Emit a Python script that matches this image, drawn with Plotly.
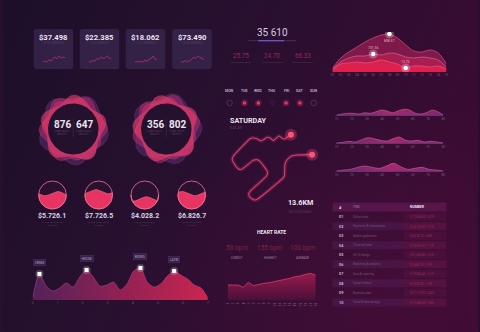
import base64
import numpy as np
import plotly.graph_objects as go

W, H = 480, 332
FONT = "Roboto, Arial, sans-serif"
WHITE = "#ece4f0"
GREY = "#7d6888"
DIM = "#54405e"
PINK = "#e8356a"
DIMPINK = "#8e2b58"

# ---------------- data ----------------
card_values = ["$37.498", "$22.385", "$18.062", "$73.490"]
card_spark = [
    [2, 3, 2, 4, 3, 5, 7, 5, 8, 6, 7, 6],
    [3, 2, 4, 3, 6, 5, 8, 6, 7, 9, 6, 7],
    [2, 3, 2, 3, 2, 4, 3, 5, 6, 9, 5, 6],
    [2, 2, 3, 2, 3, 4, 6, 5, 7, 6, 5, 4],
]
total_value = "35 610"
sub_values = ["25.75", "24.70", "66.33"]

mount_ticks = ["%02d" % i for i in range(1, 16)]
mount_l1 = [4, 14, 20, 25, 30, 34, 37, 38, 34, 27, 21, 20, 22, 19, 8]
mount_l2 = [3, 10, 14, 16, 16, 18, 17, 19, 18, 15, 14, 15, 14, 12, 5]
mount_l3 = [2, 8, 9, 10, 9, 10, 12, 10, 8, 4, 6, 6, 5, 6, 3]
mount_marks = [(0, 7, "808.57", -7), (1, 5, "731.56", 6), (2, 9, "13.75", 6)]

blob_numbers = [("876", "647"), ("356", "802")]

gauge_levels = [0.55, 0.62, 0.36, 0.55]
gauge_phase = [0.3, 2.4, 1.2, 4.0]
gauge_labels = ["$5.726.1", "$7.726.5", "$4.028.2", "$6.826.7"]

peak_vals = [2, 26, 14, 9, 12, 17, 13, 23, 30, 23, 14, 15, 18, 10, 16, 29, 32, 18, 13, 16, 24, 29, 25, 21, 15, 12, 2]
peak_marks = [1, 8, 16, 21]
peak_names = ["CRIME", "HOUSE", "BOOKS", "LATIN"]
peak_ticks = ["0", "1", "2", "3", "4", "5", "6", "7"]

days = ["MON", "TUE", "WED", "THU", "FRI", "SAT", "SUN"]
day_state = ["empty", "fill", "fill", "heart", "fill", "fill", "empty"]

route_x = [198, 188, 180, 170, 162, 152, 145, 135, 125, 115, 105, 95, 82, 74, 22, 20, 24, 38, 48, 84, 96,
           104, 124, 127, 124, 72, 70, 74, 86, 96, 172, 178, 180, 186, 200, 215, 262]
route_y = [20, 26, 33, 30, 24, 32, 38, 30, 28, 35, 38, 32, 30, 32, 86, 96, 104, 122, 124, 97, 95,
           100, 126, 134, 144, 192, 200, 208, 216, 214, 152, 144, 108, 96, 84, 81, 80]

heart_vals = [15, 15, 15, 12.7, 17.7, 14.3, 15.7, 16.7, 17.3, 18.3, 20, 21, 21.7, 23.3, 24, 25.7, 26.7, 25]
heart_stats = ["58 bpm", "155 bpm", "103 bpm"]
heart_labels = ["LOWEST", "HIGHEST", "AVERAGE"]

spark1 = [0, 1, 1.7, 1.7, 1, 2.3, 1.7, 3.3, 5, 4, 2.3, 4.3, 5.7, 5, 1.7, 1, 2.3, 5, 3.3, 0]
spark2 = [0, 0.7, 1.7, 1, 3.3, 5.3, 4.3, 2.7, 2, 4.3, 6, 2.7, 2, 2.7, 1, 1.7, 1, 0]
spark3 = [0, 1, 1.7, 3.7, 5, 3.7, 2.7, 5, 7.7, 4.3, 1.7, 2.7, 3.7, 1.7, 1, 0]
spark_ticks = ["10", "20", "30", "40", "50", "60", "70", "80"]

table_ids = ["%02d" % i for i in range(1, 11)]
table_items = ["Online store", "Payments & transactions", "Mobile application", "Cloud services",
               "UX/UI design", "Marketing & analytics", "Data & reporting", "Social media 2",
               "Business plan", "Cloud & data storage"]
table_numbers = ["$ 12,458.00 / 5.2%", "$ 24,120.50 / 2.1%", "$ 8,374.10 / 4.8%", "$ 15,902.00 / 1.7%",
                 "$ 31,245.80 / 3.3%", "$ 6,481.20 / 2.9%", "$ 19,036.40 / 6.1%", "$ 9,527.00 / 1.2%",
                 "$ 27,113.90 / 4.4%", "$ 11,648.30 / 3.8%"]

# ---------------- figure ----------------
fig = go.Figure()
axes = {}
shapes = []
ann = []
counter = [1]


def new_axes(px0, px1, py0, py1, xr, yr, yrev=False, ticks=None, line=None):
    counter[0] += 1
    n = counter[0]
    xa = dict(domain=[px0 / W, px1 / W], anchor="y%d" % n, range=xr, showgrid=False, zeroline=False,
              showline=False, showticklabels=False, ticks="", fixedrange=True)
    if ticks is not None:
        tv, tt = ticks
        xa.update(showticklabels=True, tickvals=tv, ticktext=tt,
                  tickfont=dict(size=3.2, color="#6f5a7a", family=FONT))
    if line:
        xa.update(showline=True, linecolor=line, linewidth=0.7)
    ya = dict(domain=[1 - py1 / H, 1 - py0 / H], anchor="x%d" % n, showgrid=False, zeroline=False,
              showline=False, showticklabels=False, ticks="", fixedrange=True,
              range=(yr[::-1] if yrev else yr))
    axes["xaxis%d" % n] = xa
    axes["yaxis%d" % n] = ya
    return "x%d" % n, "y%d" % n


def txt(x, y, s, size, color, bold=False, xanchor="center", xref="x", yref="y", **kw):
    ann.append(dict(x=x, y=y, xref=xref, yref=yref, text=("<b>%s</b>" % s if bold else s), showarrow=False,
                    xanchor=xanchor, yanchor="middle", font=dict(size=size, color=color, family=FONT), **kw))


def rrect(x0, y0, x1, y1, r, fill, layer="below", line=None):
    p = (f"M {x0+r},{y0} L {x1-r},{y0} Q {x1},{y0} {x1},{y0+r} L {x1},{y1-r} Q {x1},{y1} {x1-r},{y1} "
         f"L {x0+r},{y1} Q {x0},{y1} {x0},{y1-r} L {x0},{y0+r} Q {x0},{y0} {x0+r},{y0} Z")
    shapes.append(dict(type="path", path=p, xref="x", yref="y", fillcolor=fill, layer=layer,
                       line=dict(width=0.6 if line else 0, color=line or "rgba(0,0,0,0)")))


# canvas trace (keeps canvas axes alive)
fig.add_trace(go.Scatter(x=[0, W], y=[0, H], mode="markers", marker=dict(opacity=0), hoverinfo="skip",
                         showlegend=False, xaxis="x", yaxis="y"))

# ---- cards ----
card_left = [31, 77.5, 124, 171]
for i, l in enumerate(card_left):
    rrect(l, 29, l + 40, 69, 2.5, "rgba(58,40,80,0.72)")
    txt(l + 20, 37, card_values[i], 7.6, WHITE, bold=True)
    txt(l + 20, 43, "TOTAL EARNINGS", 2.6, DIM)
    xa, ya = new_axes(l + 9, l + 32, 55, 63, [0, len(card_spark[i]) - 1],
                      [min(card_spark[i]) - 1, max(card_spark[i]) + 1])
    fig.add_trace(go.Scatter(x=list(range(len(card_spark[i]))), y=card_spark[i], mode="lines",
                             line=dict(color="#c8307a", width=0.8, shape="spline"), xaxis=xa, yaxis=ya,
                             hoverinfo="skip", showlegend=False))

# ---- top middle ----
txt(272, 32.5, total_value, 10, "#d6cce0")
shapes.append(dict(type="line", x0=248, x1=296, y0=40.7, y1=40.7, xref="x", yref="y",
                   line=dict(color="rgba(110,80,150,0.55)", width=0.8), layer="below"))
shapes.append(dict(type="line", x0=258, x1=284, y0=40.7, y1=40.7, xref="x", yref="y",
                   line=dict(color="#6b5bd6", width=1.2), layer="below"))
for xv, s in zip([240, 272, 303], sub_values):
    txt(xv, 56, s, 6.3, DIMPINK)
    txt(xv, 62.5, "Lorem ipsum dolor", 2.5, DIM)

# ---- mountain chart ----
xa, ya = new_axes(333, 448, 32, 72, [0, 14], [0, 40], ticks=(list(range(15)), mount_ticks))
mx = list(range(15))
layers = [(mount_l1, "rgba(140,28,78,0.85)", "rgba(225,90,140,0.9)"),
          (mount_l2, "rgba(180,32,86,0.75)", "rgba(240,120,160,0.8)"),
          (mount_l3, "rgba(222,34,78,0.95)", "rgba(255,100,130,0.8)")]
for vals, fc, lc in layers:
    fig.add_trace(go.Scatter(x=mx, y=vals, mode="lines", fill="tozeroy", fillcolor=fc,
                             line=dict(color=lc, width=0.7, shape="spline", smoothing=1.0),
                             xaxis=xa, yaxis=ya, hoverinfo="skip", showlegend=False))
for li, idx, lab, sh in mount_marks:
    vals = layers[li][0]
    fig.add_trace(go.Scatter(x=[idx], y=[vals[idx]], mode="markers",
                             marker=dict(size=9, color="rgba(255,255,255,0.25)"), xaxis=xa, yaxis=ya,
                             hoverinfo="skip", showlegend=False))
    fig.add_trace(go.Scatter(x=[idx], y=[vals[idx]], mode="markers",
                             marker=dict(size=4.5, color="white"), xaxis=xa, yaxis=ya,
                             hoverinfo="skip", showlegend=False))
    ann.append(dict(x=idx, y=vals[idx], xref=xa, yref=ya, text=lab, showarrow=False, yshift=sh,
                    font=dict(size=3.4, color="rgba(255,210,225,0.85)", family=FONT)))

# ---- blobs ----
th = np.linspace(0, 2 * np.pi, 240)
blob_centers = [(71, 129), (165, 129)]
blob_layers = [
    (33, 3.0, 5, 0.5, "rgba(95,48,120,0.5)"),
    (31.5, 3.2, 6, 1.8, "rgba(175,40,105,0.6)"),
    (30.5, 3.6, 5, 2.9, "rgba(228,62,108,0.62)"),
    (29, 2.5, 7, 4.1, "rgba(210,50,100,0.45)"),
]
for bi, (cx, cy) in enumerate(blob_centers):
    for R, a, k, ph, col in blob_layers:
        r = R + a * np.sin(k * th + ph + bi * 1.3)
        fig.add_trace(go.Scatter(x=cx + r * np.cos(th), y=cy + r * np.sin(th), mode="lines", fill="toself",
                                 fillcolor=col, line=dict(width=0.5, color="rgba(240,110,160,0.3)"),
                                 xaxis="x", yaxis="y", hoverinfo="skip", showlegend=False))
    fig.add_trace(go.Scatter(x=cx + 25.5 * np.cos(th), y=cy + 25.5 * np.sin(th), mode="lines", fill="toself",
                             fillcolor="#24112e", line=dict(width=0), xaxis="x", yaxis="y",
                             hoverinfo="skip", showlegend=False))
    n1, n2 = blob_numbers[bi]
    txt(cx - 11, 124, n1, 10, WHITE, bold=True)
    txt(cx + 11, 124, n2, 10, WHITE, bold=True)
    txt(cx - 11, 132.5, "Lorem ipsum<br>dolor sit", 2.6, DIM)
    txt(cx + 11, 132.5, "Lorem ipsum<br>dolor sit", 2.6, DIM)
    shapes.append(dict(type="line", x0=cx, x1=cx, y0=119, y1=137, xref="x", yref="y",
                       line=dict(color="rgba(120,90,140,0.5)", width=0.5), layer="above"))

# ---- gauges ----
gx = [50, 96.7, 143.3, 190.7]
gy, gr = 195, 14
for i, cx in enumerate(gx):
    shapes.append(dict(type="circle", x0=cx - gr, x1=cx + gr, y0=gy - gr, y1=gy + gr, xref="x", yref="y",
                       fillcolor="#2a1130", line=dict(width=0), layer="below"))
    xs = np.linspace(-gr, gr, 90)
    circ = np.sqrt(np.maximum(gr ** 2 - xs ** 2, 0))
    h = -gr + 2 * gr * gauge_levels[i]
    wave = h + 2.2 * np.sin(xs / gr * np.pi * 1.1 + gauge_phase[i])
    top = np.maximum(np.minimum(wave, circ), -circ)
    px = np.concatenate([xs, xs[::-1]]) + cx
    py = gy - np.concatenate([top, -circ[::-1]])
    fig.add_trace(go.Scatter(x=px, y=py, mode="lines", fill="toself", fillcolor="#e83462",
                             line=dict(width=0.6, color="#ff6d8f"), xaxis="x", yaxis="y",
                             hoverinfo="skip", showlegend=False))
    shapes.append(dict(type="circle", x0=cx - gr, x1=cx + gr, y0=gy - gr, y1=gy + gr, xref="x", yref="y",
                       line=dict(width=0.9, color="rgba(240,110,150,0.9)"), layer="above"))
    txt(cx, 216, gauge_labels[i], 7, "#ddd3e6", bold=True)
    txt(cx, 223.5, "Lorem ipsum dolor<br>sit amet", 2.5, DIM)

# ---- peaks area chart ----
n = len(peak_vals)
tv = list(np.linspace(0, n - 1, len(peak_ticks)))
xa, ya = new_axes(30, 207, 262, 300, [0, n - 1], [0, 38], ticks=(tv, peak_ticks))
fig.add_trace(go.Scatter(x=list(range(n)), y=peak_vals, mode="lines", fill="tozeroy",
                         fillgradient=dict(type="horizontal",
                                           colorscale=[[0, "rgba(85,35,92,0.95)"], [0.5, "rgba(150,34,86,0.95)"],
                                                       [1, "rgba(205,38,80,0.98)"]]),
                         line=dict(color="rgba(210,90,140,0.6)", width=0.7, shape="spline", smoothing=0.8),
                         xaxis=xa, yaxis=ya, hoverinfo="skip", showlegend=False))
mxs = peak_marks
mys = [peak_vals[k] for k in peak_marks]
fig.add_trace(go.Scatter(x=mxs, y=mys, mode="markers", marker=dict(size=8, color="rgba(255,255,255,0.22)"),
                         xaxis=xa, yaxis=ya, hoverinfo="skip", showlegend=False))
fig.add_trace(go.Scatter(x=mxs, y=mys, mode="markers", marker=dict(size=4, color="white", symbol="square"),
                         xaxis=xa, yaxis=ya, hoverinfo="skip", showlegend=False))
for k, name in zip(peak_marks, peak_names):
    ann.append(dict(x=k, y=peak_vals[k], xref=xa, yref=ya, text=name, showarrow=False, yshift=12,
                    bgcolor="#352049", bordercolor="#4a3262", borderwidth=0.5, borderpad=1.2,
                    font=dict(size=3.2, color="#b8a8c6", family=FONT)))

# ---- days ----
day_x = [229, 244, 258, 272, 286, 300, 314]
for dx, d, st in zip(day_x, days, day_state):
    txt(dx, 91, d, 3.6, "#b9a9c4", bold=True)
    if st == "fill":
        fig.add_trace(go.Scatter(x=[dx], y=[103], mode="markers",
                                 marker=dict(size=7, color="rgba(232,53,106,0.25)"), xaxis="x", yaxis="y",
                                 hoverinfo="skip", showlegend=False))
        fig.add_trace(go.Scatter(x=[dx], y=[103], mode="markers", marker=dict(size=3.5, color=PINK),
                                 xaxis="x", yaxis="y", hoverinfo="skip", showlegend=False))
    elif st == "empty":
        fig.add_trace(go.Scatter(x=[dx], y=[103], mode="markers",
                                 marker=dict(size=5.5, color="rgba(0,0,0,0)", line=dict(width=0.6, color="#5d4568")),
                                 xaxis="x", yaxis="y", hoverinfo="skip", showlegend=False))
    else:
        txt(dx, 103, "♡", 7, "#6a5075")

txt(227, 120, "SATURDAY", 7.2, WHITE, bold=True, xanchor="left")
txt(227, 127.5, "8:45 AM", 3.2, DIM, xanchor="left")

# ---- route ----
xa, ya = new_axes(225, 320, 128, 203, [0, 285], [0, 225], yrev=True)
fig.add_trace(go.Scatter(x=route_x, y=route_y, mode="lines",
                         line=dict(color="rgba(230,60,110,0.2)", width=4, shape="spline", smoothing=0.45),
                         xaxis=xa, yaxis=ya, hoverinfo="skip", showlegend=False))
fig.add_trace(go.Scatter(x=route_x, y=route_y, mode="lines",
                         line=dict(color="#d93a6e", width=1.1, shape="spline", smoothing=0.45),
                         xaxis=xa, yaxis=ya, hoverinfo="skip", showlegend=False))
ends_x = [route_x[0], route_x[-1]]
ends_y = [route_y[0], route_y[-1]]
fig.add_trace(go.Scatter(x=ends_x, y=ends_y, mode="markers", marker=dict(size=12, color="rgba(255,80,120,0.3)"),
                         xaxis=xa, yaxis=ya, hoverinfo="skip", showlegend=False))
fig.add_trace(go.Scatter(x=ends_x, y=ends_y, mode="markers", marker=dict(size=6, color="#ff4f7c"),
                         xaxis=xa, yaxis=ya, hoverinfo="skip", showlegend=False))

txt(301, 202.5, "13.6KM", 7.2, WHITE, bold=True)
txt(301, 211.5, "ROUTE DISTANCE", 2.8, DIM)

# ---- heart rate ----
txt(271.5, 231.5, "HEART RATE", 5, WHITE, bold=True)
for xv, s, lab in zip([236.7, 270, 303], heart_stats, heart_labels):
    txt(xv, 248.3, s, 6.5, "#7e2448")
    txt(xv, 258.3, lab, 3, "#9a88a6")
hn = len(heart_vals)
xa, ya = new_axes(227, 316, 270, 300, [0, hn - 1], [0, 30],
                  ticks=(list(range(hn)), [str(i + 1) for i in range(hn)]))
fig.add_trace(go.Scatter(x=list(range(hn)), y=heart_vals, mode="lines", fill="tozeroy",
                         fillgradient=dict(type="vertical", start=0, stop=27,
                                           colorscale=[[0, "#4a1038"], [1, "#9a1a4e"]]),
                         line=dict(color="#d83a70", width=0.8),
                         xaxis=xa, yaxis=ya, hoverinfo="skip", showlegend=False))

# ---- right sparklines ----
for vals, base in [(spark1, 115), (spark2, 143), (spark3, 171)]:
    m = len(vals)
    tv = list(np.linspace(0, m - 1, len(spark_ticks)))
    xa, ya = new_axes(337, 445, base - 10, base, [0, m - 1], [0, 10], ticks=(tv, spark_ticks),
                      line="rgba(130,90,160,0.55)")
    fig.add_trace(go.Scatter(x=list(range(m)), y=vals, mode="lines", fill="tozeroy",
                             fillgradient=dict(type="horizontal",
                                               colorscale=[[0, "rgba(110,45,120,0.8)"],
                                                           [0.5, "rgba(185,45,120,0.85)"],
                                                           [1, "rgba(140,45,125,0.8)"]]),
                             line=dict(color="rgba(235,110,170,0.7)", width=0.7, shape="spline"),
                             xaxis=xa, yaxis=ya, hoverinfo="skip", showlegend=False))

# ---- table ----
shapes.append(dict(type="rect", x0=333, x1=448, y0=202.5, y1=211.5, xref="x", yref="y",
                   fillcolor="rgba(95,25,80,0.75)", line=dict(width=0), layer="below"))
txt(341, 207, "#", 4, WHITE, bold=True)
txt(352, 207, "ITEM", 2.8, "#9a88a6", xanchor="left")
txt(409, 207, "NUMBER", 3.4, WHITE, bold=True, xanchor="left")
for i in range(10):
    yc = 216.7 + i * 9.52
    if i % 2 == 1:
        shapes.append(dict(type="rect", x0=333, x1=405, y0=yc - 4, y1=yc + 4, xref="x", yref="y",
                           fillcolor="rgba(120,70,150,0.16)", line=dict(width=0), layer="below"))
    shapes.append(dict(type="rect", x0=405, x1=448, y0=yc - 4, y1=yc + 4, xref="x", yref="y",
                       fillcolor="rgba(200,50,110,%.2f" % (0.14 if i % 2 else 0.07) + ")",
                       line=dict(width=0), layer="below"))
    txt(342, yc, table_ids[i], 3.8, "#c4b4cc", bold=True)
    txt(352, yc, table_items[i], 2.9, "#6e5878", xanchor="left")
    txt(409, yc, table_numbers[i], 2.9, "#9a2e62", xanchor="left")

# ---- background ----
svg = ('<svg xmlns="http://www.w3.org/2000/svg" width="480" height="332" viewBox="0 0 480 332" '
       'preserveAspectRatio="none"><defs>'
       '<linearGradient id="g" x1="0" y1="0" x2="1" y2="0.35">'
       '<stop offset="0" stop-color="#1c0f29"/><stop offset="0.45" stop-color="#27102f"/>'
       '<stop offset="1" stop-color="#3a0b33"/></linearGradient>'
       '<radialGradient id="r" cx="0.85" cy="0.85" r="0.55">'
       '<stop offset="0" stop-color="#4a0f3c" stop-opacity="0.55"/>'
       '<stop offset="1" stop-color="#4a0f3c" stop-opacity="0"/></radialGradient></defs>'
       '<rect width="480" height="332" fill="url(#g)"/><rect width="480" height="332" fill="url(#r)"/></svg>')
bg_src = "data:image/svg+xml;base64," + base64.b64encode(svg.encode()).decode()

fig.update_layout(
    width=W, height=H, margin=dict(l=0, r=0, t=0, b=0),
    paper_bgcolor="#26102e", plot_bgcolor="rgba(0,0,0,0)",
    showlegend=False, font=dict(family=FONT),
    xaxis=dict(domain=[0, 1], range=[0, W], visible=False, fixedrange=True),
    yaxis=dict(domain=[0, 1], range=[H, 0], visible=False, fixedrange=True),
    shapes=shapes, annotations=ann,
    images=[dict(source=bg_src, xref="paper", yref="paper", x=0, y=1, sizex=1, sizey=1,
                 sizing="stretch", layer="below", xanchor="left", yanchor="top")],
    **axes,
)
fig.write_html("out.html", config=dict(displayModeBar=False))
